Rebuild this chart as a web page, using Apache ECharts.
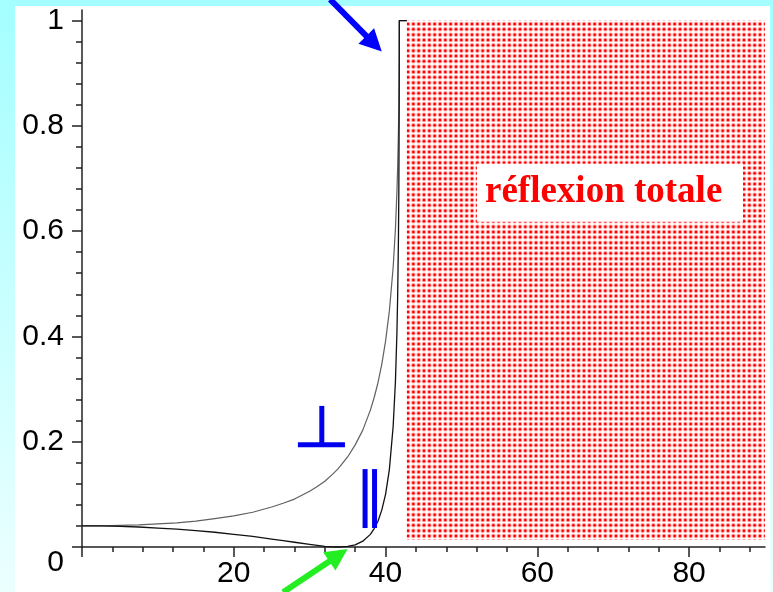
<!DOCTYPE html>
<html>
<head>
<meta charset="utf-8">
<script src="https://cdn.jsdelivr.net/npm/echarts@6/dist/echarts.min.js"></script>
<style>
html,body{margin:0;padding:0;}
body{width:773px;height:592px;overflow:hidden;background:linear-gradient(to bottom,#a4feff 0%,#c8ffff 50%,#ecffff 100%);position:relative;}
#panel{position:absolute;left:15px;top:6px;width:755px;height:586px;background:#fff;}
#chart{position:absolute;left:0;top:0;width:773px;height:592px;}
</style>
</head>
<body>
<div id="panel"></div>
<div id="chart"></div>
<script>
// Angle of incidence (degrees)
const angles = [0, 2.5, 5, 7.5, 10, 12.5, 15, 17.5, 20, 22.5, 25, 26.5, 28, 30, 31, 32, 33, 33.7, 34, 35, 36, 37, 38, 38.5, 39, 39.5, 40, 40.5, 41, 41.3, 41.5, 41.6, 41.7, 41.75, 41.8, 41.81, 42.8];
// Reflection coefficient, perpendicular polarisation
const rPerp = [0.040, 0.040, 0.041, 0.042, 0.044, 0.046, 0.049, 0.054, 0.059, 0.066, 0.076, 0.083, 0.091, 0.106, 0.115, 0.125, 0.138, 0.148, 0.153, 0.171, 0.194, 0.222, 0.260, 0.284, 0.312, 0.347, 0.391, 0.448, 0.531, 0.604, 0.675, 0.724, 0.791, 0.841, 0.931, 1.000, 1.000];
// Reflection coefficient, parallel polarisation
const rPar = [0.040, 0.040, 0.039, 0.038, 0.036, 0.034, 0.031, 0.028, 0.024, 0.020, 0.015, 0.012, 0.009, 0.005, 0.003, 0.001, 0.0002, 0.000, 0.0001, 0.001, 0.004, 0.011, 0.024, 0.035, 0.049, 0.070, 0.100, 0.147, 0.229, 0.314, 0.408, 0.480, 0.589, 0.676, 0.851, 1.000, 1.000];

// Tick values
const xLabels = [20, 40, 60, 80];
const xMajorTicks = [0, 20, 40, 60, 80];
const xMinorTicks = [4, 8, 12, 16, 24, 28, 32, 36, 44, 48, 52, 56, 64, 68, 72, 76, 84, 88];
const yLabels = [0, 0.2, 0.4, 0.6, 0.8, 1];
const yMinorTicks = [0.04, 0.08, 0.12, 0.16, 0.24, 0.28, 0.32, 0.36, 0.44, 0.48, 0.52, 0.56, 0.64, 0.68, 0.72, 0.76, 0.84, 0.88, 0.92, 0.96];

// Total reflection zone [x0, y0, x1, y1]
const totalZone = [42.8, 0.0133, 90.7, 1];
// Label box [x0, y0, x1, y1] and its text
const labelBox = [52.05, 0.618, 87.1, 0.728];
const labelText = 'réflexion totale';

// Annotations: [x1, y1, x2, y2, kind]  kind 0 = blue arrow, 1 = green arrow, 2 = blue stroke
const annotations = [
  [32.7, 1.040, 39.5, 0.941, 0],
  [26.5, -0.086, 35.0, -0.004, 1],
  [31.6, 0.268, 31.6, 0.194, 2],
  [28.45, 0.194, 34.65, 0.194, 2],
  [37.3, 0.148, 37.3, 0.036, 2],
  [38.55, 0.148, 38.55, 0.036, 2]
];

function makePattern() {
  const c = document.createElement('canvas');
  c.width = 16; c.height = 16;
  const g = c.getContext('2d');
  g.fillStyle = '#ffffff';
  g.fillRect(0, 0, 16, 16);
  const pos = [2.67, 8, 13.33];
  for (const px of pos) for (const py of pos) {
    g.fillStyle = 'rgba(255,60,60,0.5)';
    g.beginPath(); g.arc(px, py, 2.25, 0, Math.PI * 2); g.fill();
    g.fillStyle = 'rgba(255,0,0,1)';
    g.beginPath(); g.arc(px, py, 1.25, 0, Math.PI * 2); g.fill();
  }
  return c;
}

const FONT = 'Liberation Sans';
const chart = echarts.init(document.getElementById('chart'), null, {renderer: 'canvas'});

const option = {
  backgroundColor: 'transparent',
  animation: false,
  grid: {left: 82, right: 8, top: 10, bottom: 45, containLabel: false, outerBoundsMode: 'none'},
  xAxis: [{
    type: 'value', min: 0, max: 90, interval: 20, position: 'bottom',
    axisLine: {show: true, lineStyle: {color: '#222', width: 1.5}},
    axisTick: {show: true, length: 10, customValues: xMajorTicks, lineStyle: {color: '#222', width: 1.5}},
    axisLabel: {show: true, customValues: xLabels, margin: 12, fontSize: 30, fontFamily: FONT, color: '#000'},
    splitLine: {show: false}
  }, {
    type: 'value', min: 0, max: 90, position: 'bottom',
    axisLine: {show: false},
    axisTick: {show: true, length: 5, customValues: xMinorTicks, lineStyle: {color: '#222', width: 1.5}},
    axisLabel: {show: false},
    splitLine: {show: false}
  }],
  yAxis: [{
    type: 'value', min: 0, max: 1.02, interval: 0.2, position: 'left',
    axisLine: {show: true, lineStyle: {color: '#222', width: 1.5}},
    axisTick: {show: true, length: 10, customValues: yLabels, lineStyle: {color: '#222', width: 1.5}},
    axisLabel: {
      show: true, customValues: yLabels, margin: 18, fontSize: 30, fontFamily: FONT, color: '#000',
      formatter: function (v) { return v === 0 ? '{o|0}' : String(v); },
      rich: {o: {fontSize: 30, fontFamily: FONT, color: '#000', padding: [32, 0, 0, 0]}}
    },
    splitLine: {show: false}
  }, {
    type: 'value', min: 0, max: 1.02, position: 'left',
    axisLine: {show: false},
    axisTick: {show: true, length: 6, customValues: yMinorTicks, lineStyle: {color: '#222', width: 1.5}},
    axisLabel: {show: false},
    splitLine: {show: false}
  }],
  series: [{
    type: 'line', name: 'perp', xAxisIndex: 0, yAxisIndex: 0,
    data: angles.map((a, i) => [a, rPerp[i]]),
    showSymbol: false, symbol: 'none', clip: false,
    lineStyle: {color: '#606060', width: 1.2},
    z: 3,
    markArea: {
      silent: true,
      data: [
        [{xAxis: totalZone[0], yAxis: totalZone[1], itemStyle: {color: {image: makePattern(), repeat: 'repeat'}}},
         {xAxis: totalZone[2], yAxis: totalZone[3]}],
        [{xAxis: labelBox[0], yAxis: labelBox[1], itemStyle: {color: '#ffffff'},
          label: {show: true, position: 'insideLeft', distance: 8, formatter: labelText, color: '#ff0000',
                  fontFamily: 'Liberation Serif', fontWeight: 'bold', fontSize: 37}},
         {xAxis: labelBox[2], yAxis: labelBox[3]}]
      ]
    }
  }, {
    type: 'line', name: 'par', xAxisIndex: 0, yAxisIndex: 0,
    data: angles.map((a, i) => [a, rPar[i]]),
    showSymbol: false, symbol: 'none', clip: false,
    lineStyle: {color: '#111', width: 1.3},
    z: 4
  }, {
    type: 'custom', xAxisIndex: 0, yAxisIndex: 0, clip: false, silent: true, z: 6,
    dimensions: ['x1', 'y1', 'x2', 'y2', 'k'],
    encode: {x: [0, 2], y: [1, 3]},
    data: annotations,
    renderItem: function (params, api) {
      const p1 = api.coord([api.value(0), api.value(1)]);
      const p2 = api.coord([api.value(2), api.value(3)]);
      const k = api.value(4);
      if (k === 2) {
        return {type: 'line', shape: {x1: p1[0], y1: p1[1], x2: p2[0], y2: p2[1]},
                style: {stroke: '#0000ee', lineWidth: 5}};
      }
      const color = k === 0 ? '#0000ff' : '#22ee22';
      const dx = p2[0] - p1[0], dy = p2[1] - p1[1];
      const L = Math.sqrt(dx * dx + dy * dy);
      const ux = dx / L, uy = dy / L;
      const hl = 22, hw = 11;
      const bx = p2[0] - ux * hl, by = p2[1] - uy * hl;
      return {type: 'group', children: [
        {type: 'line', shape: {x1: p1[0], y1: p1[1], x2: bx + ux * 2, y2: by + uy * 2},
         style: {stroke: color, lineWidth: 6}},
        {type: 'polygon', shape: {points: [[p2[0], p2[1]], [bx - uy * hw, by + ux * hw], [bx + uy * hw, by - ux * hw]]},
         style: {fill: color}}
      ]};
    }
  }]
};
chart.setOption(option);
</script>
</body>
</html>
